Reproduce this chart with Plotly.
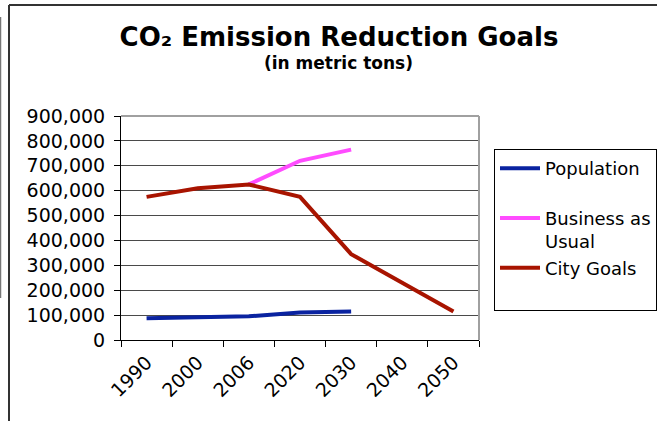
import plotly.graph_objects as go

categories = ["1990", "2000", "2006", "2020", "2030", "2040", "2050"]
population = [87000, 91000, 95000, 110000, 115000, None, None]
business_as_usual = [None, None, 625000, 720000, 765000, None, None]
city_goals = [575000, 610000, 625000, 575000, 345000, 230000, 115000]
y_ticks = [0, 100000, 200000, 300000, 400000, 500000, 600000, 700000, 800000, 900000]

FONT = "DejaVu Sans"
W, H = 657, 421
L, R, T, B = 121, 178, 116, 81
PW, PH = W - L - R, H - T - B


def px(x):
    return (x - L) / PW


def py(y):
    return (H - B - y) / PH


fig = go.Figure()
fig.add_trace(go.Scatter(x=categories, y=population, mode="lines", name="Population<br>&nbsp;",
                         line=dict(color="#0A23A0", width=4), legendgroup="a"))
fig.add_trace(go.Scatter(x=categories, y=business_as_usual, mode="lines", name="Business as<br>Usual",
                         line=dict(color="#FF4CFF", width=4), legendgroup="b"))
fig.add_trace(go.Scatter(x=categories, y=city_goals, mode="lines", name="City Goals<br>&nbsp;",
                         line=dict(color="#A81400", width=4), legendgroup="c"))

shapes = [
    # plot area top and right border
    dict(type="line", xref="x domain", yref="y domain", x0=0, x1=1, y0=1, y1=1,
         line=dict(color="#A0A0A0", width=2)),
    dict(type="line", xref="x domain", yref="y domain", x0=1, x1=1, y0=0, y1=1,
         line=dict(color="#A0A0A0", width=2)),
    # outer frame
    dict(type="line", xref="paper", yref="paper", x0=px(9), x1=px(660), y0=py(5), y1=py(5),
         line=dict(color="#333333", width=2)),
    dict(type="line", xref="paper", yref="paper", x0=px(9), x1=px(9), y0=py(5), y1=py(425),
         line=dict(color="#333333", width=2)),
    dict(type="line", xref="paper", yref="paper", x0=px(0.5), x1=px(0.5), y0=py(17), y1=py(298),
         line=dict(color="#777777", width=1.5)),
]

fig.update_layout(
    width=W, height=H,
    margin=dict(l=L, r=R, t=T, b=B, pad=0, autoexpand=False),
    paper_bgcolor="white", plot_bgcolor="white",
    font=dict(family=FONT, size=19, color="black"),
    title=dict(text="<b>CO₂ Emission Reduction Goals</b>", x=339 / W, y=1 - 37 / H,
               xanchor="center", yanchor="middle",
               font=dict(family=FONT, size=26, color="black")),
    annotations=[dict(text="<b>(in metric tons)</b>", x=px(338), y=py(63), xref="paper", yref="paper",
                      showarrow=False, xanchor="center", yanchor="middle",
                      font=dict(family=FONT, size=17, color="black"))],
    xaxis=dict(type="category", range=[-0.5, 6.5], tickson="boundaries", ticks="outside",
               ticklen=6, tickcolor="black", showline=True, linecolor="black", linewidth=1,
               showgrid=False, tickangle=-45, tickfont=dict(size=19), fixedrange=True,
               ticklabelstandoff=3),
    yaxis=dict(range=[0, 900000], tickvals=y_ticks, tickformat=",", ticks="outside", ticklen=6,
               tickcolor="black", showline=True, linecolor="black", linewidth=1,
               showgrid=True, gridcolor="#4a4a4a", gridwidth=1, zeroline=False,
               tickfont=dict(size=19), ticklabelstandoff=5, fixedrange=True),
    legend=dict(x=px(494), y=py(149), xanchor="left", yanchor="top",
                bordercolor="black", borderwidth=1, bgcolor="white",
                font=dict(size=18), traceorder="grouped", tracegroupgap=0,
                itemwidth=40, valign="top"),
    shapes=shapes,
    showlegend=True,
)

fig.write_html("out.html", config={"displayModeBar": False},
               post_script="document.body.style.margin='0';")
